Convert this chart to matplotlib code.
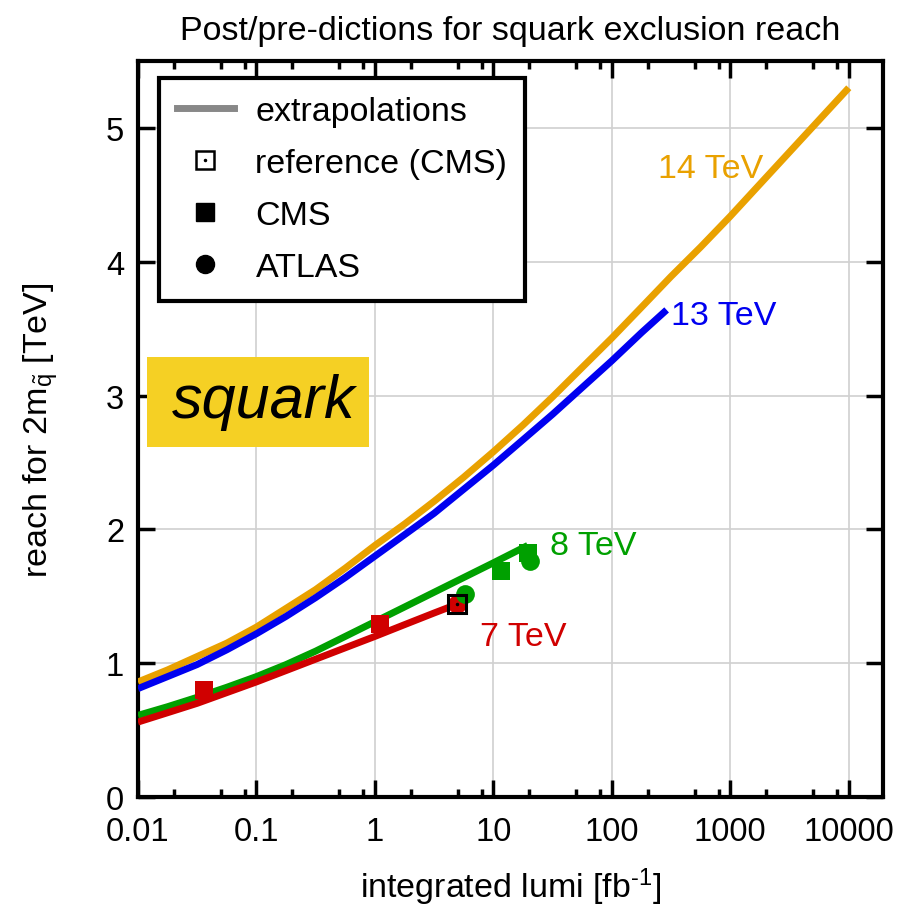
import matplotlib
matplotlib.use("Agg")
import matplotlib.pyplot as plt
from matplotlib.lines import Line2D
from matplotlib.legend_handler import HandlerTuple
from matplotlib.patches import Rectangle
from matplotlib.ticker import FixedLocator, FixedFormatter, LogLocator, NullFormatter

plt.rcParams['font.family'] = ['Liberation Sans', 'DejaVu Sans']
plt.rcParams['mathtext.fontset'] = 'custom'
plt.rcParams['mathtext.rm'] = 'Liberation Sans'
plt.rcParams['mathtext.it'] = 'Liberation Sans:italic'

# extrapolation curves: reach (TeV) vs integrated lumi (fb^-1)
lumi_14 = [0.01, 0.0178, 0.0316, 0.0562, 0.1, 0.178, 0.316, 0.562, 1, 1.78, 3.16, 5.62,
           10, 17.8, 31.6, 56.2, 100, 178, 316, 562, 1000, 1778, 3162, 5623, 10000]
reach_14 = [0.86, 0.95, 1.05, 1.15, 1.27, 1.41, 1.55, 1.71, 1.88, 2.04, 2.21, 2.39,
            2.58, 2.78, 2.99, 3.21, 3.43, 3.66, 3.89, 4.11, 4.34, 4.58, 4.82, 5.06, 5.30]

lumi_13 = [0.01, 0.0178, 0.0316, 0.0562, 0.1, 0.178, 0.316, 0.562, 1, 1.78, 3.16, 5.62,
           10, 17.8, 31.6, 56.2, 100, 178, 290]
reach_13 = [0.81, 0.90, 0.99, 1.10, 1.22, 1.35, 1.49, 1.64, 1.80, 1.96, 2.12, 2.30,
            2.48, 2.67, 2.86, 3.06, 3.26, 3.47, 3.64]

lumi_8 = [0.01, 0.0178, 0.0316, 0.0562, 0.1, 0.178, 0.316, 0.562, 1, 1.78, 3.16, 5.62, 10, 19.5]
reach_8 = [0.61, 0.675, 0.745, 0.82, 0.90, 0.99, 1.09, 1.20, 1.31, 1.42, 1.53, 1.64, 1.75, 1.88]

lumi_7 = [0.01, 0.0178, 0.0316, 0.0562, 0.1, 0.178, 0.316, 0.562, 1, 1.78, 3.16, 4.9]
reach_7 = [0.56, 0.63, 0.70, 0.78, 0.86, 0.945, 1.03, 1.115, 1.20, 1.288, 1.375, 1.44]

# experimental results
cms7_lumi = [0.036, 1.1]
cms7_reach = [0.80, 1.29]
atlas7_lumi = [4.9]
atlas7_reach = [1.44]
ref_lumi = [4.9]
ref_reach = [1.44]
cms8_lumi = [11.7, 19.5]
cms8_reach = [1.69, 1.82]
atlas8_lumi = [5.8, 20.3]
atlas8_reach = [1.52, 1.76]

xticks = [0.01, 0.1, 1, 10, 100, 1000, 10000]
xticklabels = ['0.01', '0.1', '1', '10', '100', '1000', '10000']

c14 = '#E9A100'
c13 = '#0000F0'
c8 = '#00A000'
c7 = '#D00000'

fs = 24.5

fig = plt.figure(figsize=(9.03, 9.12), dpi=100)
ax = fig.add_axes([0.1528, 0.125, 0.8252, 0.807])

lw = 5
ms = 13.5
for lx, ly, c in [(lumi_14, reach_14, c14), (lumi_13, reach_13, c13),
                  (lumi_8, reach_8, c8), (lumi_7, reach_7, c7)]:
    ax.plot(lx, ly, color=c, lw=lw, solid_capstyle='butt', solid_joinstyle='round', zorder=3)

ax.plot(cms7_lumi, cms7_reach, 's', color=c7, ms=ms, mew=0, zorder=4)
ax.plot(atlas7_lumi, atlas7_reach, 'o', color=c7, ms=ms, mew=0, zorder=4)
ax.plot(cms8_lumi, cms8_reach, 's', color=c8, ms=ms, mew=0, zorder=4)
ax.plot(atlas8_lumi, atlas8_reach, 'o', color=c8, ms=ms, mew=0, zorder=4)
ax.plot(ref_lumi, ref_reach, 's', mfc='none', mec='black', ms=ms, mew=2.2, zorder=5)
ax.plot(ref_lumi, ref_reach, '.', color='black', ms=3, zorder=5)

ax.set_xscale('log')
ax.set_xlim(0.01, 1.95e4)
ax.set_ylim(0, 5.5)
ax.xaxis.set_major_locator(FixedLocator(xticks))
ax.xaxis.set_major_formatter(FixedFormatter(xticklabels))
ax.xaxis.set_minor_locator(LogLocator(base=10, subs=(2, 5, 8), numticks=20))
ax.xaxis.set_minor_formatter(NullFormatter())
ax.set_yticks([0, 1, 2, 3, 4, 5])

ax.grid(True, which='major', color='#d0d0d0', lw=1.2, zorder=0)
ax.tick_params(which='both', direction='in', top=True, right=True, width=2.5,
               labelsize=23.5)
ax.tick_params(which='major', length=12)
ax.tick_params(which='minor', length=6)
ax.tick_params(axis='x', pad=14)
ax.tick_params(axis='y', pad=10)
for sp in ax.spines.values():
    sp.set_linewidth(3)

ax.set_title('Post/pre-dictions for squark exclusion reach', fontsize=fs, pad=16)
ax.set_xlabel(r'integrated lumi [fb$^{\text{-1}}$]', fontsize=fs)
ax.xaxis.set_label_coords(0.5, -0.093)
ax.set_ylabel(r'reach for 2m$_{\tilde{\mathrm{q}}}$ [TeV]', fontsize=fs)
ax.yaxis.set_label_coords(-0.105, 0.5)

# curve labels
ax.text(244, 4.70, '14 TeV', color=c14, fontsize=fs, va='center', ha='left')
ax.text(315, 3.60, '13 TeV', color=c13, fontsize=fs, va='center', ha='left')
ax.text(30, 1.88, '8 TeV', color=c8, fontsize=fs, va='center', ha='left')
ax.text(7.7, 1.20, '7 TeV', color=c7, fontsize=fs, va='center', ha='left')

# squark tag
ax.add_patch(Rectangle((0.012, 0.4755), 0.298, 0.1225, transform=ax.transAxes,
                       facecolor='#F5D024', edgecolor='none', zorder=2))
ax.text(0.168, 0.537, 'squark', transform=ax.transAxes, fontsize=44,
        style='italic', ha='center', va='center', zorder=3)

# legend
h_line = Line2D([], [], color='#888888', lw=lw)
h_ref = (Line2D([], [], marker='s', ls='none', mfc='none', mec='black', ms=13, mew=1.8),
         Line2D([], [], marker='.', ls='none', color='black', ms=3))
h_cms = Line2D([], [], marker='s', ls='none', color='black', ms=13)
h_atlas = Line2D([], [], marker='o', ls='none', color='black', ms=13)
leg = ax.legend([h_line, h_ref, h_cms, h_atlas],
                ['extrapolations', 'reference (CMS)', 'CMS', 'ATLAS'],
                handler_map={tuple: HandlerTuple(ndivide=1, pad=0)},
                loc='upper left', bbox_to_anchor=(0.028, 0.977), fontsize=fs,
                frameon=True, fancybox=False, framealpha=1, edgecolor='black',
                borderpad=0.52, labelspacing=0.62, handlelength=1.7,
                handletextpad=0.62, borderaxespad=0)
leg.get_frame().set_linewidth(3)
leg.set_zorder(6)

fig.savefig('out.png', dpi=100)
